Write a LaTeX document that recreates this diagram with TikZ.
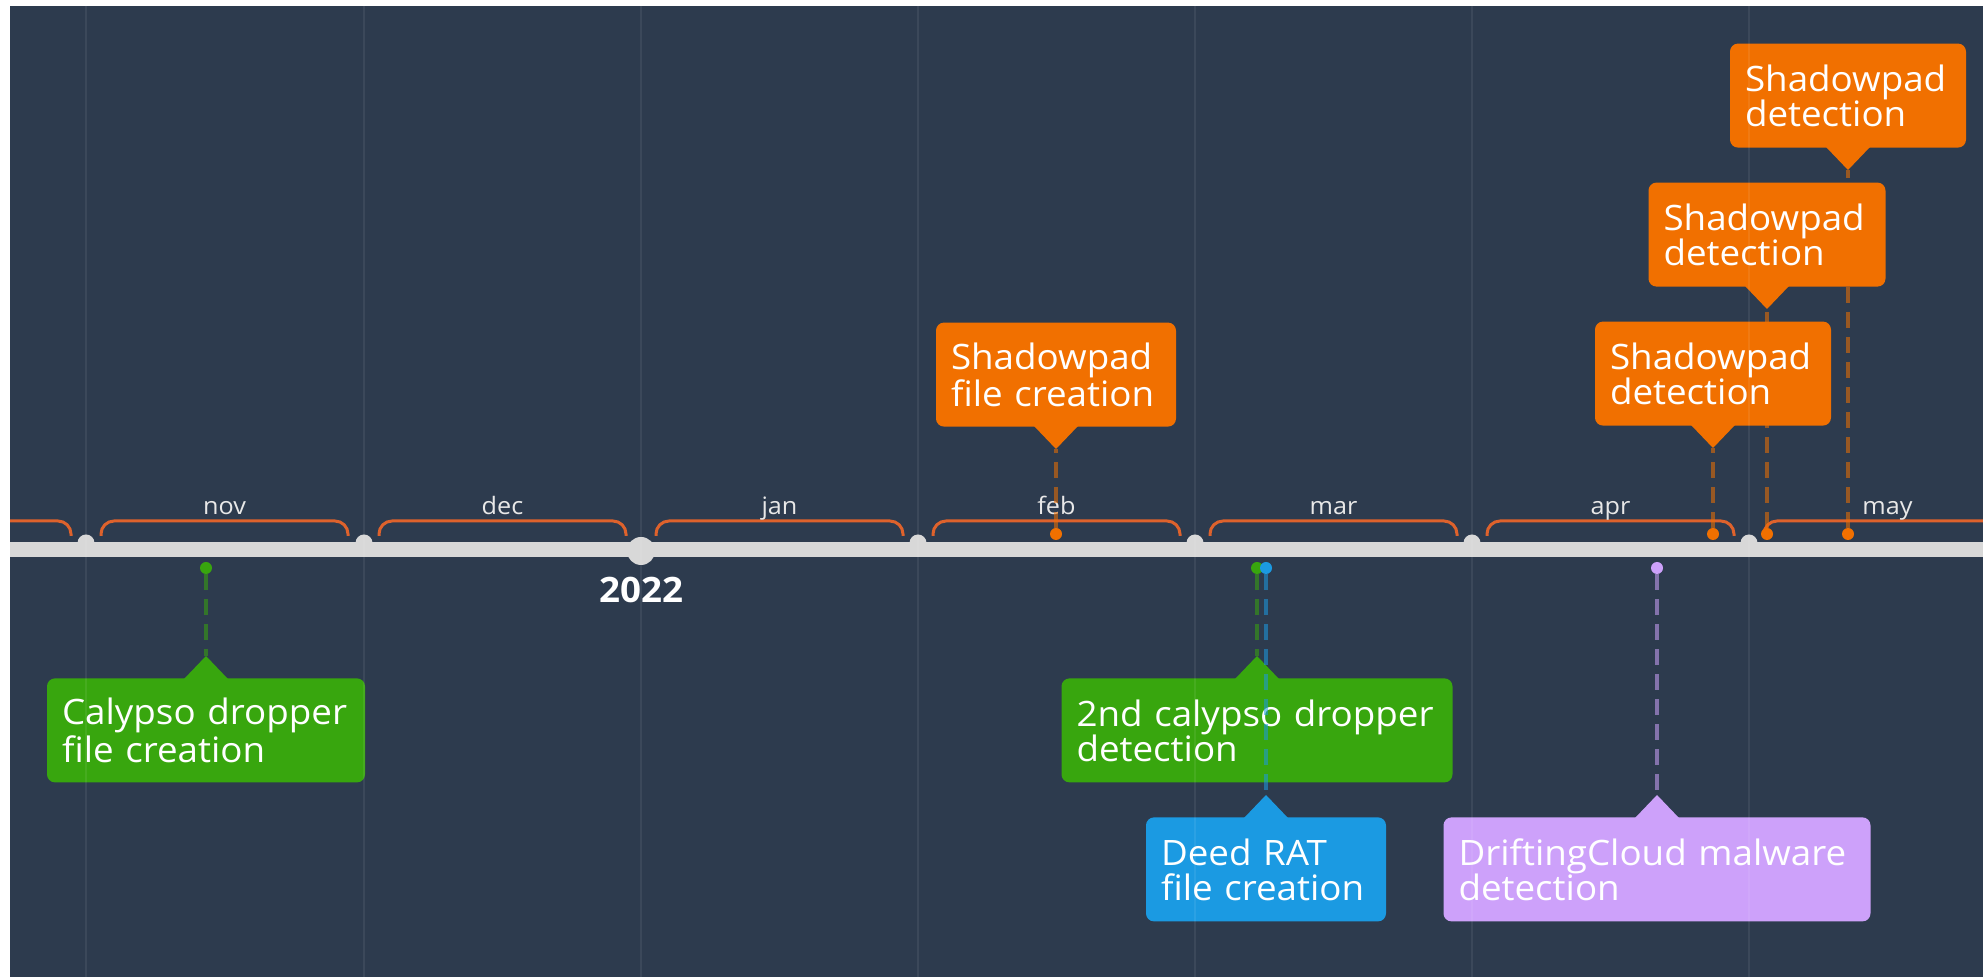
\documentclass[tikz,border=0pt]{standalone}
\usepackage{fontspec}
\setmainfont{Open Sans}[FakeStretch=1.05]
\usepackage{xcolor}
\usetikzlibrary{calc}
\definecolor{navy}{RGB}{45,59,78}
\definecolor{axisgray}{RGB}{216,216,216}
\definecolor{bracecol}{RGB}{222,98,44}
\definecolor{monthtxt}{RGB}{232,232,232}
\definecolor{evorange}{RGB}{241,112,0}
\definecolor{evgreen}{RGB}{56,166,14}
\definecolor{evblue}{RGB}{27,154,226}
\definecolor{evpurple}{RGB}{205,161,250}
\tikzset{
  evbox/.style={fill=#1, rounded corners=4pt, inner xsep=7.5pt, inner ysep=0pt, minimum height=52pt, align=left, text=white, font=\fontsize{17.5}{17.5}\selectfont},
  evdot/.style={circle, fill=#1, inner sep=0pt, minimum size=6pt},
  evline/.style={draw=#1, draw opacity=0.55, line width=2pt, dash pattern=on 8pt off 4.5pt},
  axisline/.style={draw=axisgray, line width=7.5pt},
  monthdot/.style={circle, fill=axisgray, inner sep=0pt, minimum size=8.5pt},
  yeardot/.style={circle, fill=axisgray, inner sep=0pt, minimum size=14pt},
  monthbrace/.style={draw=bracecol, line width=1.5pt, rounded corners=6.5pt},
  monthlbl/.style={anchor=base, text=monthtxt, font=\fontsize{12}{14}\selectfont},
  yearlbl/.style={anchor=base, text=white, font=\fontsize{17.5}{20}\selectfont\bfseries},
  gridline/.style={draw=white, draw opacity=0.07, line width=1pt}
}

\begin{document}
\begin{tikzpicture}[x=0.5pt,y=-0.5pt]
  \useasboundingbox (0,0) rectangle (1983,977);
  \fill[white] (0,0) rectangle (1983,977);
  \fill[navy] (10,6) rectangle (1983,977);

  \begin{scope}
    \clip (10,6) rectangle (1983,977);
    % time axis
    \coordinate (axl) at (0,549.5);
    \coordinate (axr) at (1983,549.5);
    \draw[axisline] (axl) -- (axr);
    % month brackets
    \draw[monthbrace] (-200,521) -- (71,521) -- (71,536);
    \foreach \b/\m in {86/nov, 364/dec, 641/jan, 918/feb, 1195/mar, 1472/apr} {
      \draw[monthbrace] (\b+15,536) |- (\b+262,521) -- (\b+262,536);
      \node[monthlbl] (lbl-\m) at (\b+138.5,515) {\m};
    }
    \draw[monthbrace] (1764,536) |- (2100,521);
    \node[monthlbl] (lbl-may) at (1887.5,515) {may};
    % month and year marks
    \foreach \b in {86,364,918,1195,1472,1749}
      \node[monthdot] (mark-\b) at (\b,543) {};
    \node[yeardot] (y2022) at (641,551) {};
    \node[yearlbl] (y2022-lbl) at (641,603) {2022};
  \end{scope}

  % events below the axis
  \foreach \n/\x/\y/\c/\w/\t in {
      cal/206/678/evgreen/144/{Calypso dropper\\file creation},
      caltwo/1257/678/evgreen/180.5/{2nd calypso dropper\\detection},
      deed/1266/817/evblue/105/{Deed RAT\\file creation},
      drift/1657/817/evpurple/198.5/{DriftingCloud malware\\detection}} {
    \node[evdot=\c] (\n-dot) at (\x,568) {};
    \node[evbox=\c, anchor=north, text width=\w pt] (\n) at (\x,\y) {\t};
    \coordinate (\n-tip) at ($(\n.north)+(0,-22)$);
    \fill[\c] ($(\n.north)+(-22,1)$) -- (\n-tip) -- ($(\n.north)+(22,1)$) -- cycle;
    \draw[evline=\c] (\n-dot) -- (\n-tip);
  }

  % events above the axis
  \foreach \n/\x/\y/\w/\t in {
      spfile/1056/427/105/{Shadowpad\\file creation},
      spdetc/1848/148/103/{Shadowpad\\detection},
      spdetb/1767/287/103.5/{Shadowpad\\detection},
      spdeta/1713/426/103/{Shadowpad\\detection}} {
    \node[evdot=evorange] (\n-dot) at (\x,534) {};
    \draw[evline=evorange] (\n-dot) -- (\x,\y+22);
    \node[evbox=evorange, anchor=south, text width=\w pt] (\n) at (\x,\y) {\t};
    \coordinate (\n-tip) at ($(\n.south)+(0,22)$);
    \fill[evorange] ($(\n.south)+(-22,-1)$) -- (\n-tip) -- ($(\n.south)+(22,-1)$) -- cycle;
  }

  % month grid
  \foreach \b in {86,364,641,918,1195,1472,1749}
    \draw[gridline] (\b,6) -- (\b,977);
\end{tikzpicture}
\end{document}
